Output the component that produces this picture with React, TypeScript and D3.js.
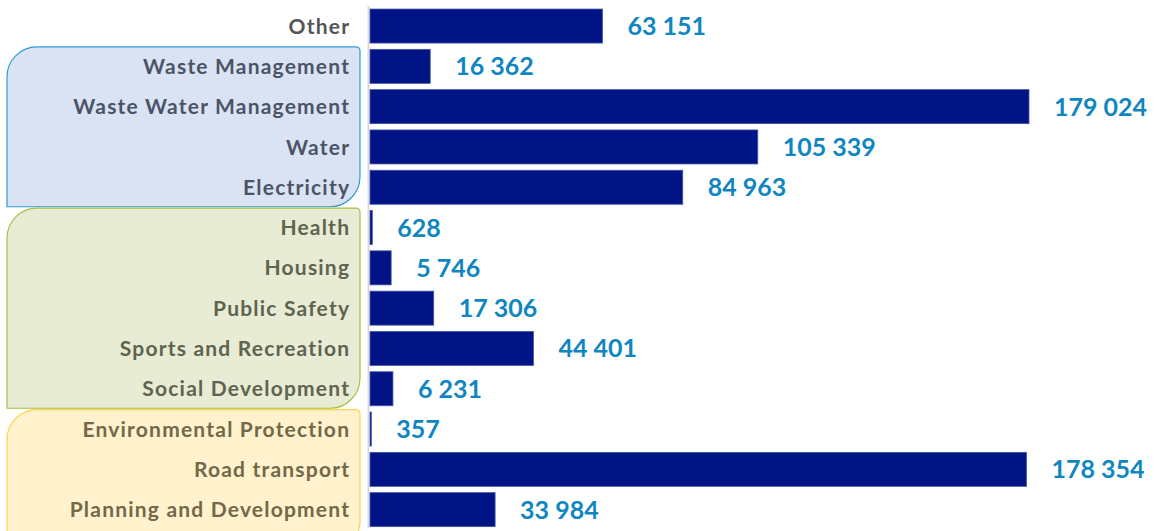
import React from "react";
import * as d3 from "d3";

const categories = [
  "Other",
  "Waste Management",
  "Waste Water Management",
  "Water",
  "Electricity",
  "Health",
  "Housing",
  "Public Safety",
  "Sports and Recreation",
  "Social Development",
  "Environmental Protection",
  "Road transport",
  "Planning and Development",
];
const values = [63151, 16362, 179024, 105339, 84963, 628, 5746, 17306, 44401, 6231, 357, 178354, 33984];
const groupOf = ["none", "blue", "blue", "blue", "blue", "green", "green", "green", "green", "green", "yellow", "yellow", "yellow"];

const groups = [
  { key: "blue", fill: "#dae3f3", stroke: "#2e9bd6", text: "#4b5467" },
  { key: "green", fill: "#e8ecd4", stroke: "#a8c045", text: "#5e6450" },
  { key: "yellow", fill: "#fff2cc", stroke: "#ffd24d", text: "#736848" },
];

const W = 1160;
const H = 531;
const FONT = "Lato, 'Open Sans', sans-serif";

function fmt(v: number) {
  return d3.format(",")(v).replace(/,/g, " ");
}

function boxPath(x0: number, y0: number, x1: number, y1: number, rBig: number, rSmall: number) {
  const p = d3.path();
  p.moveTo(x0, y0 + rBig);
  p.arcTo(x0, y0, x0 + rBig, y0, rBig);
  p.lineTo(x1 - rSmall, y0);
  p.arcTo(x1, y0, x1, y0 + rSmall, rSmall);
  p.lineTo(x1, y1 - rBig);
  p.arcTo(x1, y1, x1 - rBig, y1, rBig);
  p.lineTo(x0, y1);
  p.closePath();
  return p.toString();
}

export default function App() {
  const x = d3.scaleLinear().domain([0, 179024]).range([370, 1029]);
  const y = d3
    .scaleBand<string>()
    .domain(categories)
    .range([5.9, 529.8])
    .paddingInner(0.156)
    .paddingOuter(0.078);
  const bw = y.bandwidth();

  const groupColor = (g: string) => groups.find((d) => d.key === g);

  return (
    <svg width={W} height={H} style={{ position: "absolute", left: 0, top: 0, background: "#fff" }}>
      {groups.map((g) => {
        const cats = categories.filter((_, i) => groupOf[i] === g.key);
        const top = (y(cats[0]) as number) - 2.5;
        let bottom = (y(cats[cats.length - 1]) as number) + bw + 2.5;
        if (g.key === "yellow") bottom = H + 20;
        return (
          <path
            key={g.key}
            d={boxPath(7, top, 360, bottom, 30, 4)}
            fill={g.fill}
            stroke={g.stroke}
            strokeWidth={1.2}
          />
        );
      })}
      <line x1={368.5} x2={368.5} y1={6} y2={528} stroke="#d9d9d9" strokeWidth={2} />
      {categories.map((c, i) => {
        const yy = y(c) as number;
        const g = groupColor(groupOf[i]);
        return (
          <g key={c}>
            <rect
              x={x(0)}
              y={yy}
              width={Math.max(0, x(values[i]) - x(0))}
              height={bw}
              fill="#001485"
              stroke="#4655a8"
              strokeWidth={0.8}
            />
            <text
              x={350.2}
              y={yy + bw / 2}
              dy="0.36em"
              textAnchor="end"
              fontFamily={FONT}
              fontWeight={700}
              fontSize={21}
              letterSpacing={1.2}
              fill={g ? g.text : "#555555"}
            >
              {c}
            </text>
            <text
              x={x(values[i]) + 25}
              y={yy + bw / 2}
              dy="0.36em"
              fontFamily={FONT}
              fontWeight={700}
              fontSize={25}
              fill="#0f86c1"
            >
              {fmt(values[i])}
            </text>
          </g>
        );
      })}
    </svg>
  );
}
